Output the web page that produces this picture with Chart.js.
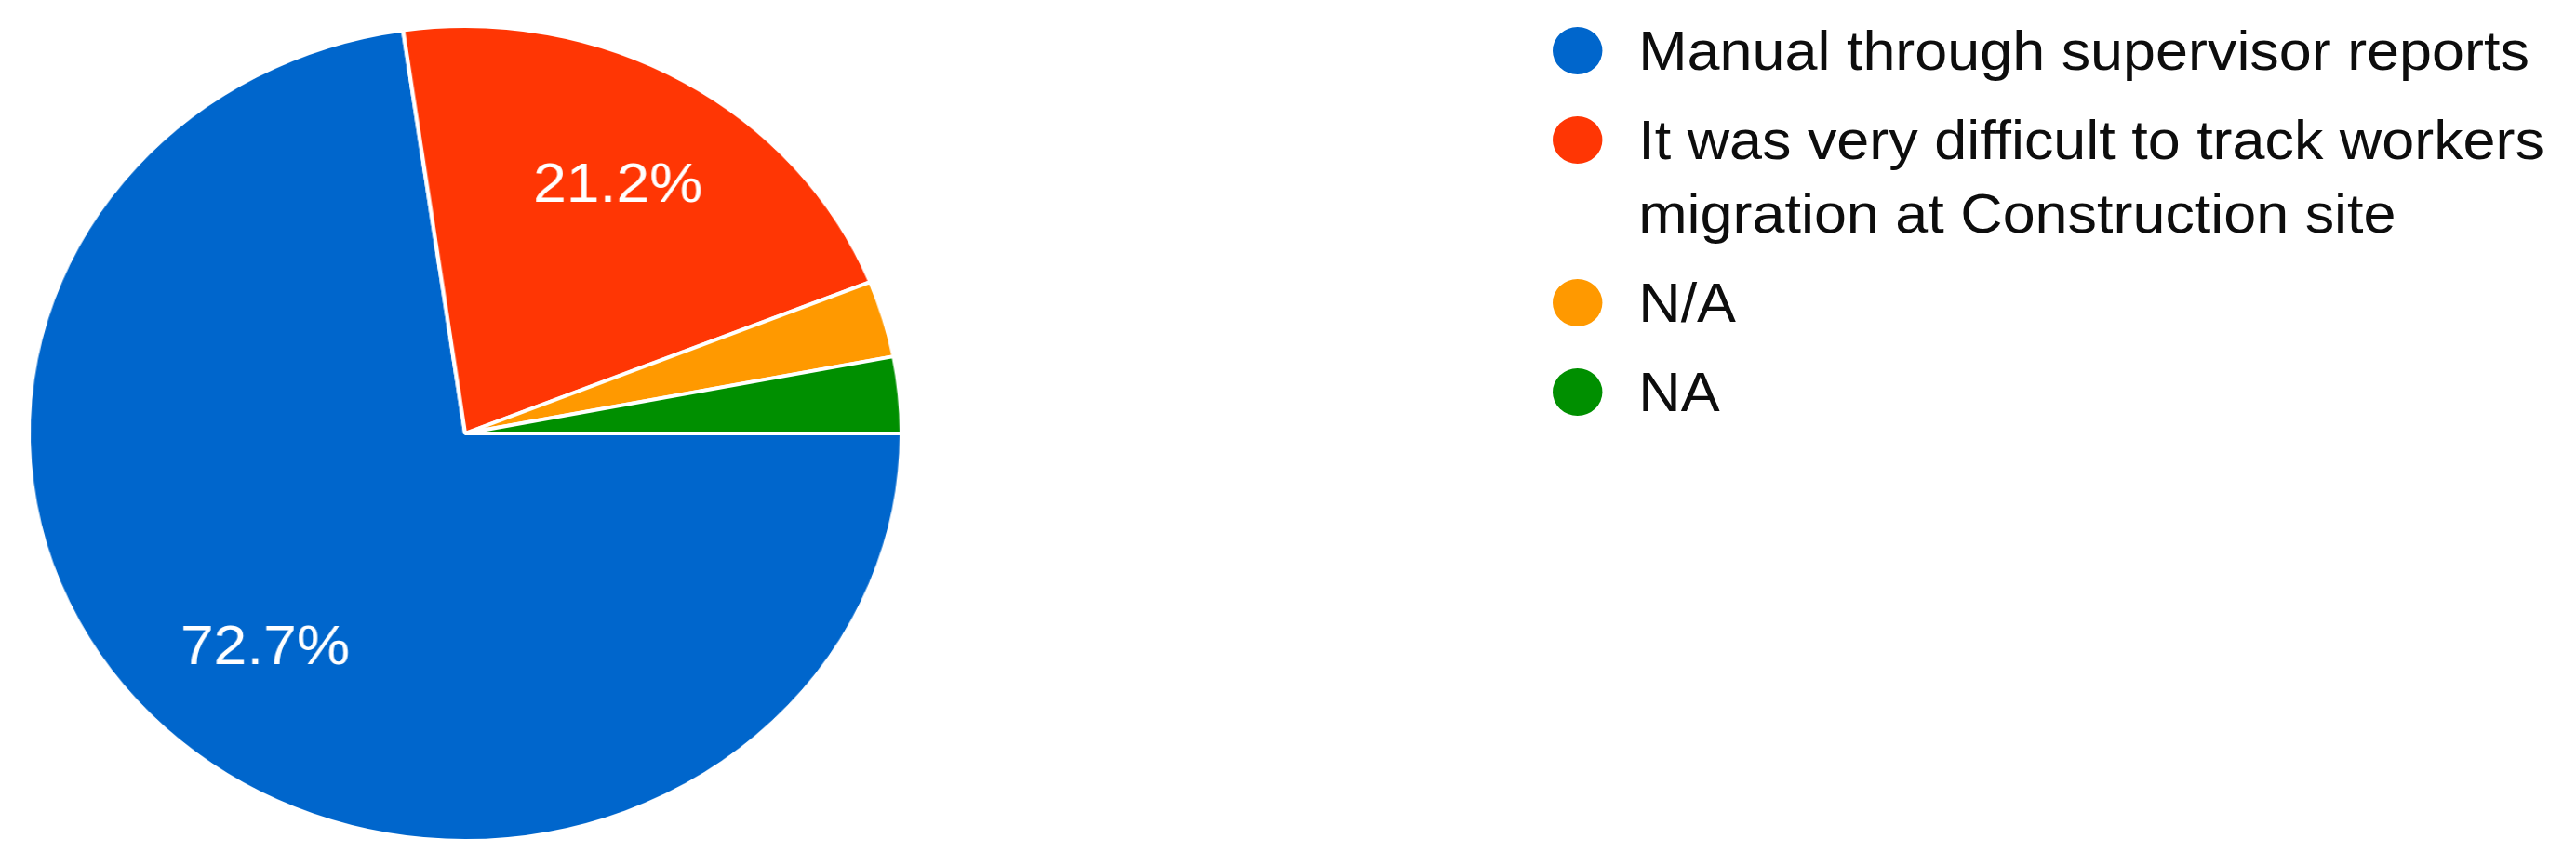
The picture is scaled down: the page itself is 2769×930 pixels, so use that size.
<!DOCTYPE html>
<html>
<head>
<meta charset="utf-8">
<script src="https://cdn.jsdelivr.net/npm/chart.js@4"></script>
<style>
  html, body { margin: 0; padding: 0; background: #fff; }
  body { width: 2769px; height: 930px; position: relative; overflow: hidden; font-family: 'Liberation Sans', Arial, sans-serif; }
  /* the reference is a screenshot stretched sideways, so the pie is squeezed into an ellipse */
  #pieBox { position: absolute; left: 18px; top: 0; width: 900px; height: 930px; transform: scaleX(1.071); transform-origin: 0 0; }
  #legend { position: absolute; left: 1669px; top: 15px; transform: scaleX(1.048); transform-origin: 0 0; }
  .item { display: flex; align-items: flex-start; margin-bottom: 17px; }
  .dot { width: 51px; height: 51px; border-radius: 50%; margin-top: 14px; margin-right: 37px; flex: none; }
  .txt { font-size: 60px; line-height: 79px; color: #0d0d0d; width: 940px; }
</style>
</head>
<body>
<div id="pieBox"><canvas id="pie"></canvas></div>
<div id="legend"></div>
<script>
// ---------- data ----------
const labels = [
  'Manual through supervisor reports',
  'It was very difficult to track workers migration at Construction site',
  'N/A',
  'NA',
];
const counts = [24, 7, 1, 1];
const colors = ['#0066cc', '#ff3604', '#ff9900', '#008f00'];

// ---------- percent labels inside the slices ----------
const pctLabels = {
  id: 'pctLabels',
  afterDatasetsDraw(chart) {
    const { ctx } = chart;
    const meta = chart.getDatasetMeta(0);
    const total = counts.reduce((a, b) => a + b, 0);
    ctx.save();
    ctx.font = '60px "Liberation Sans", Arial, sans-serif';
    ctx.fillStyle = '#fff';
    ctx.textAlign = 'center';
    ctx.textBaseline = 'middle';
    meta.data.forEach((arc, i) => {
      const share = counts[i] / total;
      if (share < 0.05) return; // small slices get no label
      const p = arc.getProps(['x', 'y', 'startAngle', 'endAngle', 'outerRadius'], true);
      const mid = (p.startAngle + p.endAngle) / 2;
      const r = p.outerRadius * 0.7;
      ctx.fillText((share * 100).toFixed(1) + '%', p.x + Math.cos(mid) * r, p.y + Math.sin(mid) * r);
    });
    ctx.restore();
  },
};

new Chart(document.getElementById('pie'), {
  type: 'pie',
  data: {
    labels: labels,
    datasets: [{
      data: counts,
      backgroundColor: colors,
      borderColor: '#fff',
      borderWidth: 4,
    }],
  },
  options: {
    responsive: true,
    maintainAspectRatio: false,
    animation: false,
    rotation: 90,
    radius: 438,
    layout: { padding: { top: 2 } },
    plugins: {
      legend: { display: false },
      tooltip: { enabled: false },
    },
  },
  plugins: [pctLabels],
});

// ---------- legend (html) ----------
const legend = document.getElementById('legend');
labels.forEach((name, i) => {
  const row = document.createElement('div');
  row.className = 'item';
  row.innerHTML = '<span class="dot" style="background:' + colors[i] + '"></span><span class="txt"></span>';
  row.querySelector('.txt').textContent = name;
  legend.appendChild(row);
});
</script>
</body>
</html>
